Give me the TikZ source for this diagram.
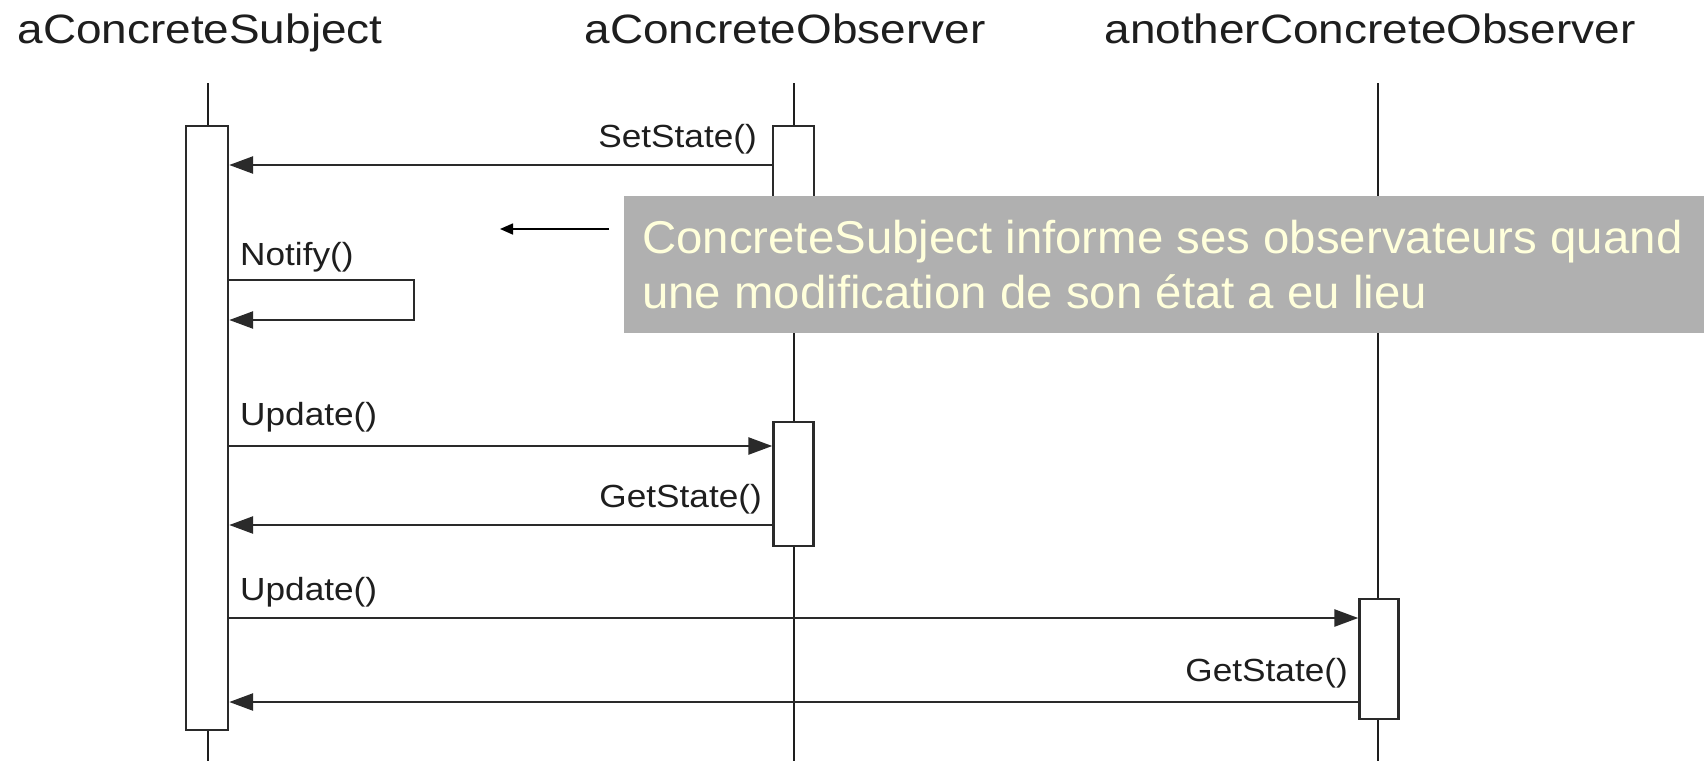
\documentclass[tikz,border=0pt]{standalone}
\usepackage{fontspec}
\setmainfont{Liberation Sans}
\newfontfamily\titlefont[FakeStretch=1.12]{Liberation Sans}
\newfontfamily\labelfont[FakeStretch=1.1]{Liberation Sans}
\newfontfamily\notefont[FakeStretch=1.03]{Liberation Sans}
\usetikzlibrary{arrows.meta}
\definecolor{ink}{HTML}{1E1E1E}
\definecolor{lineink}{HTML}{2A2A2A}
\definecolor{notegray}{HTML}{B0B0B0}
\definecolor{notetext}{rgb}{1,1,0.86}
\tikzset{
  title/.style={inner sep=0pt, anchor=base, text=ink, font=\titlefont\fontsize{41}{49}\selectfont},
  lbl/.style={inner sep=0pt, text=ink, font=\labelfont\fontsize{32}{38}\selectfont},
  lifeline/.style={draw=ink, line width=2pt},
  actbox/.style={draw=lineink, fill=white, line width=2.4pt, inner sep=0pt, rectangle},
  msg/.style={draw=lineink, line width=2.6pt, -{Triangle[length=24pt,width=17pt]}},
  notetxt/.style={inner sep=0pt, anchor=base west, text=notetext, font=\notefont\fontsize{46}{55}\selectfont},
  pointer/.style={draw=black, line width=1.6pt, -{Triangle[length=13pt,width=11pt]}}
}
\begin{document}
\begin{tikzpicture}[x=1pt,y=-1pt]
\useasboundingbox (0,0) rectangle (1704,761);
\fill[white] (0,0) rectangle (1704,761);

% titles
\node[title] (t1) at (200,43) {aConcreteSubject};
\node[title] (t2) at (785,43) {aConcreteObserver};
\node[title] (t3) at (1370,43) {anotherConcreteObserver};

% lifelines
\coordinate (l1top) at (208,83);  \coordinate (l1bot) at (208,761);
\coordinate (l2top) at (794,83);  \coordinate (l2bot) at (794,761);
\coordinate (l3top) at (1378,83); \coordinate (l3bot) at (1378,761);
\draw[lifeline] (l1top) -- (l1bot);
\draw[lifeline] (l2top) -- (l2bot);
\draw[lifeline] (l3top) -- (l3bot);

% activation boxes
\node[actbox, minimum width=42pt, minimum height=604pt] (a1) at (207,428) {};
\node[actbox, minimum width=41pt, minimum height=124pt] (b1) at (793.5,188) {};
\node[actbox, minimum width=40pt, minimum height=124pt] (b2) at (793.5,484) {};
\node[actbox, minimum width=39pt, minimum height=120pt] (c1) at (1379,659) {};

% messages
\draw[msg] (b1.west |- 0,165) -- (a1.east |- 0,165);
\node[lbl, anchor=base east] (setstate) at (757,147) {SetState()};

\coordinate (nfa) at (414,280);
\coordinate (nfb) at (414,320);
\draw[msg] (a1.east |- nfa) -- (nfa) -- (nfb) -- (a1.east |- nfb);
\node[lbl, anchor=base west] (notify) at (240,265) {Notify()};

\draw[msg] (a1.east |- 0,446) -- (b2.west |- 0,446);
\node[lbl, anchor=base west] (update1) at (240,425) {Update()};

\draw[msg] (b2.west |- 0,525) -- (a1.east |- 0,525);
\node[lbl, anchor=base east] (getstate1) at (762,507) {GetState()};

\draw[msg] (a1.east |- 0,618) -- (c1.west |- 0,618);
\node[lbl, anchor=base west] (update2) at (240,600) {Update()};

\draw[msg] (c1.west |- 0,702) -- (a1.east |- 0,702);
\node[lbl, anchor=base east] (getstate2) at (1348,681) {GetState()};

% note
\node[fill=notegray, inner sep=0pt, anchor=north west, minimum width=1080pt, minimum height=137pt] (note) at (624,196) {};
\node[notetxt] (noteA) at (642,253) {ConcreteSubject informe ses observateurs quand};
\node[notetxt] (noteB) at (642,308) {une modification de son état a eu lieu};
\coordinate (ptip) at (500,229);
\draw[pointer] ([xshift=-15pt]note.west |- ptip) -- (ptip);
\end{tikzpicture}
\end{document}
